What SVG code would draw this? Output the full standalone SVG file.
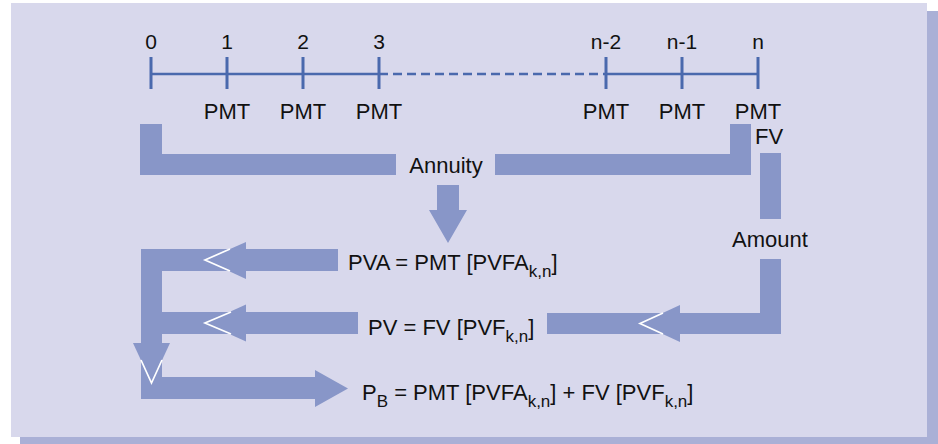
<svg xmlns="http://www.w3.org/2000/svg" width="938" height="444" viewBox="0 0 938 444">
<style>
.bar{fill:#8896c8}
.tl{stroke:#4a69ad;stroke-width:2.5;fill:none}
.tk{stroke:#4a69ad;stroke-width:3;fill:none}
.wh{stroke:#ffffff;stroke-width:1.7;fill:none;stroke-linejoin:miter}
text{font-family:"Liberation Sans",Arial,sans-serif;fill:#111;font-size:22px}
.num{font-size:21px;text-anchor:middle}
.mid{text-anchor:middle}
.sub{font-size:17px}
</style>
<rect x="0" y="0" width="938" height="444" fill="#ffffff"/>
<rect x="20" y="11" width="918" height="433" fill="#aab0d6"/>
<rect x="11" y="3" width="916" height="434" fill="#d8d8ec"/>

<g id="timeline">
<line class="tl" x1="151" y1="74" x2="379" y2="74"/>
<line class="tl" x1="379" y1="74" x2="606" y2="74" stroke-dasharray="9,5"/>
<line class="tl" x1="606" y1="74" x2="758" y2="74"/>
<path class="tk" d="M151 57V89M227 57V89M303 57V89M379 57V89M606 57V89M682 57V89M758 57V89"/>
<text class="num" x="151" y="49">0</text>
<text class="num" x="227" y="49">1</text>
<text class="num" x="303" y="49">2</text>
<text class="num" x="379" y="49">3</text>
<text class="num" x="606" y="49">n-2</text>
<text class="num" x="682" y="49">n-1</text>
<text class="num" x="758" y="49">n</text>
<text class="mid" x="227" y="119">PMT</text>
<text class="mid" x="303" y="119">PMT</text>
<text class="mid" x="379" y="119">PMT</text>
<text class="mid" x="606" y="119">PMT</text>
<text class="mid" x="682" y="119">PMT</text>
<text class="mid" x="758" y="119">PMT</text>
</g>

<g id="annuity">
<text class="mid" x="446" y="173">Annuity</text>
</g>
<g id="fv">
<text class="mid" x="769" y="144">FV</text>
</g>
<g id="amount">
<text class="mid" x="770" y="247">Amount</text>
</g>
<g id="pva">
<text x="348" y="270">PVA = PMT [PVFA<tspan class="sub" dy="7">k,n</tspan><tspan dy="-7">]</tspan></text>
</g>
<g id="pv">
<text x="368" y="335">PV = FV [PVF<tspan class="sub" dy="7">k,n</tspan><tspan dy="-7">]</tspan></text>
</g>
<g id="pb">
<text x="362" y="400">P<tspan class="sub" dy="7">B</tspan><tspan dy="-7"> = PMT [PVFA</tspan><tspan class="sub" dy="7">k,n</tspan><tspan dy="-7">] + FV [PVF</tspan><tspan class="sub" dy="7">k,n</tspan><tspan dy="-7">]</tspan></text>
</g>

<g id="connectors">
<path class="bar" d="M140 124H162V154H396V175H140Z"/>
<path class="bar" d="M495 154H730V124H751V175H495Z"/>
<path class="bar" d="M437 185H459V210H467L448 243L429 210H437Z"/>
<rect class="bar" x="760" y="153" width="21" height="66"/>
<path class="bar" d="M760 259H781V334H547V313H760Z"/>
<path class="bar" d="M640 323.5L680 305V342Z"/>
<path class="wh" d="M663 313L640 323.5L663 334"/>
<rect class="bar" x="162" y="312" width="196" height="22"/>
<path class="bar" d="M205 323L246 304.5V341.5Z"/>
<path class="wh" d="M231 312L205 323L231 334"/>
<path class="bar" d="M141 249H338V271H162V377H315V370L348 388.5L315 407V399H141Z"/>
<path class="bar" d="M205 260L246 242V279Z"/>
<path class="wh" d="M230 249L205 260L230 271"/>
<path class="bar" d="M133 343H170L151.5 383Z"/>
<path class="wh" d="M141 360L151.5 383L162 360"/>
</g>
</svg>
